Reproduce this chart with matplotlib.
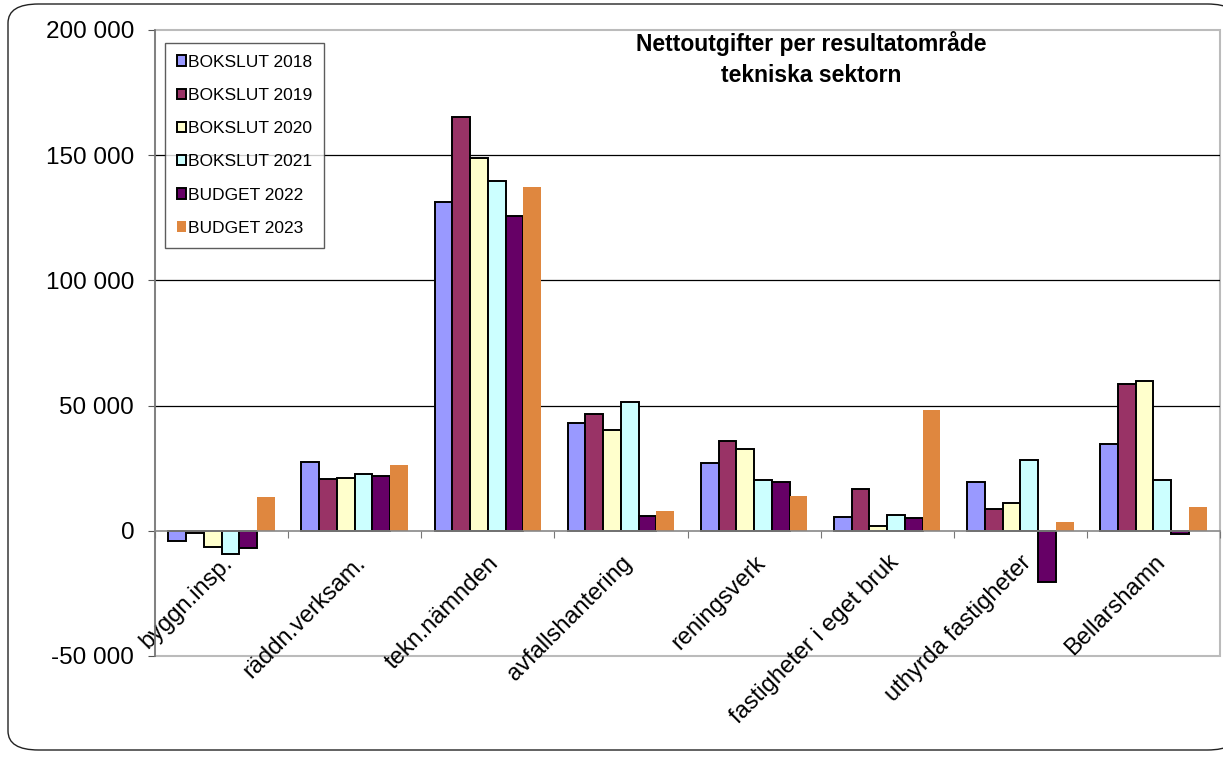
import numpy as np
import matplotlib
matplotlib.use('Agg')
import matplotlib.pyplot as plt
from matplotlib.patches import Rectangle, FancyBboxPatch
from matplotlib.ticker import FuncFormatter

plt.rcParams['font.family'] = ['Liberation Sans', 'DejaVu Sans']

# Kategorier (resultatområden)
categories = ['byggn.insp.', 'räddn.verksam.', 'tekn.nämnden', 'avfallshantering',
              'reningsverk', 'fastigheter i eget bruk', 'uthyrda fastigheter', 'Bellarshamn']

# Serier
series_names = ['BOKSLUT 2018', 'BOKSLUT 2019', 'BOKSLUT 2020',
                'BOKSLUT 2021', 'BUDGET 2022', 'BUDGET 2023']
bokslut_2018 = [-3900, 27300, 131300, 43200, 27100, 5500, 19600, 34700]
bokslut_2019 = [-1000, 20700, 165300, 46700, 36000, 16700, 8700, 58800]
bokslut_2020 = [-6300, 21000, 148800, 40100, 32800, 2000, 11100, 59700]
bokslut_2021 = [-9300, 22500, 139700, 51300, 20100, 6300, 28400, 20400]
budget_2022 = [-7000, 22000, 125700, 6100, 19300, 5300, -20400, -1100]
budget_2023 = [13300, 26400, 137300, 7900, 14000, 48400, 3600, 9500]
values = [bokslut_2018, bokslut_2019, bokslut_2020, bokslut_2021, budget_2022, budget_2023]

colors = ['#9999FF', '#993366', '#FFFFCC', '#CCFFFF', '#660066', '#DF873F']
y_ticks = [-50000, 0, 50000, 100000, 150000, 200000]

fig = plt.figure(figsize=(12.23, 7.6), dpi=100)

# Yttre rundad ram
frame = FancyBboxPatch((8 / 1223, 10 / 760), 1230 / 1223, 746 / 760,
                       boxstyle='round,pad=0,rounding_size=0.025',
                       transform=fig.transFigure, facecolor='white',
                       edgecolor='#222222', linewidth=1.0, zorder=-10)
fig.patches.append(frame)

ax = fig.add_axes([155 / 1223, 1 - 656 / 760, 1065 / 1223, 626 / 760])
ax.set_facecolor('none')

x = np.arange(len(categories))
n = len(values)
w = 0.8 / n
for i, (name, vals) in enumerate(zip(series_names, values)):
    pos = x - 0.4 + w * (i + 0.5)
    if i == n - 1:
        ax.bar(pos, vals, width=w, color=colors[i], edgecolor='none', label=name, zorder=3)
    else:
        ax.bar(pos, vals, width=w, color=colors[i], edgecolor='black', linewidth=1.4,
               label=name, zorder=3)

ax.set_xlim(-0.5, len(categories) - 0.5)
ax.set_ylim(-50000, 200000)
ax.set_yticks(y_ticks)
ax.yaxis.set_major_formatter(FuncFormatter(lambda v, p: f'{int(v):,}'.replace(',', ' ')))
ax.tick_params(axis='y', labelsize=17.5, length=5, color='#555555', pad=10)

# Rutnät
for yv in [50000, 100000, 150000]:
    ax.axhline(yv, color='black', linewidth=0.9, zorder=1)

# Kategoriaxel vid noll
ax.spines['bottom'].set_position(('data', 0))
ax.spines['bottom'].set_color('#888888')
ax.spines['bottom'].set_linewidth(1.2)
ax.spines['bottom'].set_zorder(4)
ax.spines['left'].set_color('#777777')
ax.spines['left'].set_linewidth(1.2)
ax.spines['top'].set_visible(False)
ax.spines['right'].set_visible(False)

ax.set_xticks(np.arange(len(categories) + 1) - 0.5)
ax.set_xticklabels([])
ax.tick_params(axis='x', which='major', length=5, color='#777777', direction='out')
ax.set_xticks(x, minor=True)
ax.set_xticklabels(categories, minor=True, rotation=45, ha='right', va='top',
                   rotation_mode='anchor', fontsize=17)
ax.tick_params(axis='x', which='minor', length=0, pad=15)

# Ljusgrå ram runt diagramytan
ax.add_patch(Rectangle((0, 0), 1, 1, transform=ax.transAxes, fill=False,
                       edgecolor='#BBBBBB', linewidth=1.5, clip_on=False, zorder=0))

leg = ax.legend(loc='upper left', bbox_to_anchor=(0.009, 0.98), borderaxespad=0,
                fontsize=12.5, frameon=True, fancybox=False, edgecolor='#333333',
                handlelength=0.55, handleheight=0.55, handletextpad=0.1,
                labelspacing=1.05, borderpad=0.7)
leg.get_frame().set_linewidth(1.0)

fig.text(811 / 1223, 1 - 43 / 760, 'Nettoutgifter per resultatområde', ha='center',
         va='center', fontsize=16.5, fontweight='bold')
fig.text(811 / 1223, 1 - 76 / 760, 'tekniska sektorn', ha='center',
         va='center', fontsize=16.5, fontweight='bold')

fig.savefig('out.png', dpi=100)
